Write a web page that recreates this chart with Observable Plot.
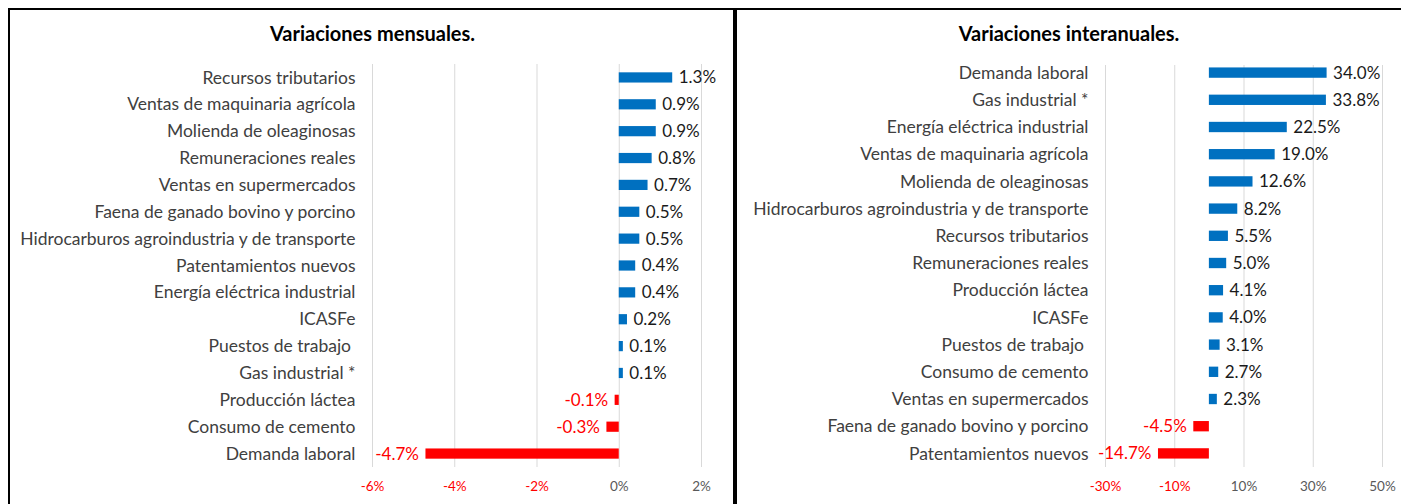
<!DOCTYPE html>
<html><head><meta charset="utf-8">
<script src="https://cdn.jsdelivr.net/npm/d3@7"></script>
<script src="https://cdn.jsdelivr.net/npm/@observablehq/plot@0.6"></script>
<style>
body{margin:0;background:#fff;font-family:Lato,"Open Sans",sans-serif;}
#root{position:relative;width:1401px;height:504px;overflow:hidden;background:#fff;}
.panel{position:absolute;top:8px;height:520px;border:2px solid #000;box-sizing:border-box;z-index:5;background:transparent;}
.title{position:absolute;top:21px;text-align:center;font-weight:bold;font-size:20px;line-height:24px;color:#000;font-family:Lato,sans-serif;}
.chart{position:absolute;top:50px;}
</style></head>
<body><div id="root">
<div class="chart" id="c1" style="left:10px;"></div>
<div class="chart" id="c2" style="left:737px;"></div>
<div class="panel" style="left:8px;width:729px;"></div>
<div class="panel" style="left:733px;width:670px;"></div>
<div class="title" style="left:8px;width:729px;">Variaciones mensuales.</div>
<div class="title" style="left:737px;width:664px;">Variaciones interanuales.</div>
</div>
<script>
const mensualCategories = ["Recursos tributarios","Ventas de maquinaria agrícola","Molienda de oleaginosas","Remuneraciones reales","Ventas en supermercados","Faena de ganado bovino y porcino","Hidrocarburos agroindustria y de transporte","Patentamientos nuevos","Energía eléctrica industrial","ICASFe","Puestos de trabajo","Gas industrial","Producción láctea","Consumo de cemento","Demanda laboral"];
const mensualValues = [1.3,0.9,0.9,0.8,0.7,0.5,0.5,0.4,0.4,0.2,0.1,0.1,-0.1,-0.3,-4.7];
const mensualTicks = [-6,-4,-2,0,2];

const interanualCategories = ["Demanda laboral","Gas industrial","Energía eléctrica industrial","Ventas de maquinaria agrícola","Molienda de oleaginosas","Hidrocarburos agroindustria y de transporte","Recursos tributarios","Remuneraciones reales","Producción láctea","ICASFe","Puestos de trabajo","Consumo de cemento","Ventas en supermercados","Faena de ganado bovino y porcino","Patentamientos nuevos"];
const interanualValues = [34.0,33.8,22.5,19.0,12.6,8.2,5.5,5.0,4.1,4.0,3.1,2.7,2.3,-4.5,-14.7];
const interanualTicks = [-30,-10,10,30,50];

const BLUE = "#0070C0", RED = "#FF0000", CAT = "#404040", VAL = "#1a1a1a", TICK = "#595959", GRID = "#d9d9d9";

function catLabel(name){
  if (name === "Gas industrial") return "Gas industrial\u00a0*";
  if (name === "Puestos de trabajo") return "Puestos de trabajo\u00a0";
  return name;
}

function makeChart({categories, values, ticks, width, marginLeft, marginRight, marginTop, marginBottom, gridInsetTop}) {
  const data = categories.map((name, i) => ({name, value: values[i]}));
  const fmt = d => d.toFixed(1) + "%";
  return Plot.plot({
    width, height: 454,
    marginLeft, marginRight, marginTop, marginBottom,
    style: {fontFamily: "Lato, 'Open Sans', sans-serif", fontSize: "17px", background: "transparent"},
    x: {domain: [ticks[0], ticks[ticks.length - 1]]},
    y: {type: "band", domain: categories, paddingInner: 0.62, paddingOuter: 0.31, round: false},
    marks: [
      Plot.gridX(ticks, {stroke: GRID, strokeOpacity: 1, strokeWidth: 1, insetTop: gridInsetTop}),
      Plot.barX(data, {filter: d => d.value >= 0, x: "value", y: "name", fill: BLUE}),
      Plot.barX(data, {filter: d => d.value < 0, x: "value", y: "name", fill: RED}),
      Plot.text(data, {filter: d => d.value >= 0, x: "value", y: "name", text: d => fmt(d.value), textAnchor: "start", dx: 6, fill: VAL, fontSize: 17}),
      Plot.text(data, {filter: d => d.value < 0, x: "value", y: "name", text: d => fmt(d.value), textAnchor: "end", dx: -7, fill: RED, fontSize: 17}),
      Plot.axisY({tickSize: 0, tickPadding: 17, fontSize: 17.5, fill: CAT, label: null, tickFormat: catLabel}),
      Plot.axisX(ticks.filter(t => t < 0), {tickSize: 0, tickPadding: 14, fontSize: 13.5, fill: RED, label: null, tickFormat: d => d + "%"}),
      Plot.axisX(ticks.filter(t => t >= 0), {tickSize: 0, tickPadding: 14, fontSize: 13.5, fill: TICK, label: null, tickFormat: d => d + "%"})
    ]
  });
}

document.getElementById("c1").append(makeChart({
  categories: mensualCategories, values: mensualValues, ticks: mensualTicks,
  width: 727, marginLeft: 362, marginRight: 36, marginTop: 14, marginBottom: 37, gridInsetTop: 0
}));
document.getElementById("c2").append(makeChart({
  categories: interanualCategories, values: interanualValues, ticks: interanualTicks,
  width: 664, marginLeft: 368, marginRight: 19, marginTop: 9, marginBottom: 37, gridInsetTop: 6
}));
</script>
</body></html>
